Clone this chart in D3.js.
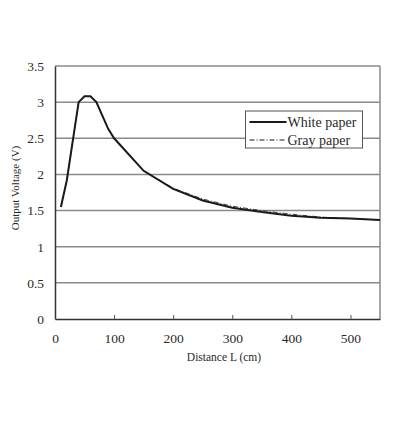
<!DOCTYPE html>
<html>
<head>
<meta charset="utf-8">
<script src="https://cdn.jsdelivr.net/npm/d3@7.9.0/dist/d3.min.js"></script>
<style>
  body { margin: 0; background: #fff; }
  svg text { font-family: "Liberation Serif", "Times New Roman", serif; fill: #2a2a2a; }
</style>
</head>
<body>
<div id="chart"></div>
<script>
const distance = [10, 20, 40, 50, 60, 70, 90, 100, 150, 200, 250, 300, 350, 400, 450, 500, 550];
const whitePaper = [1.55, 1.92, 3.0, 3.08, 3.08, 3.0, 2.63, 2.5, 2.05, 1.8, 1.64, 1.54, 1.48, 1.43, 1.40, 1.39, 1.37];
const grayPaper = [1.55, 1.92, 3.0, 3.08, 3.08, 3.0, 2.63, 2.5, 2.05, 1.81, 1.66, 1.56, 1.5, 1.45, 1.41, 1.39, 1.37];
const xTicks = [0, 100, 200, 300, 400, 500];
const yTicks = [0, 0.5, 1, 1.5, 2, 2.5, 3, 3.5];

const width = 398, height = 425;
const margin = {top: 66, right: 18, bottom: 106, left: 55};

const svg = d3.select("#chart").append("svg")
    .attr("width", width)
    .attr("height", height);

const x = d3.scaleLinear()
    .domain([0, 550])
    .range([margin.left, width - margin.right]);

const y = d3.scaleLinear()
    .domain([0, 3.5])
    .range([height - margin.bottom, margin.top]);

// gridlines
svg.append("g")
    .selectAll("line")
    .data(yTicks.filter(d => d > 0))
    .enter()
    .append("line")
    .attr("x1", x(0))
    .attr("x2", x(550))
    .attr("y1", d => y(d))
    .attr("y2", d => y(d))
    .attr("stroke", "#8a8a8a")
    .attr("stroke-width", 1.5);

// right border
svg.append("line")
    .attr("x1", x(550)).attr("x2", x(550))
    .attr("y1", y(3.5)).attr("y2", y(0))
    .attr("stroke", "#8a8a8a")
    .attr("stroke-width", 1.5);

// axes
const xAxis = svg.append("g")
    .attr("transform", `translate(0,${y(0)})`)
    .call(d3.axisBottom(x).tickValues(xTicks).tickSizeInner(-4).tickSizeOuter(0).tickPadding(14));
xAxis.select(".domain").attr("stroke", "#333").attr("stroke-width", 1.5);
xAxis.selectAll(".tick line").attr("stroke", "#555");
xAxis.selectAll("text").style("font-size", "13.5px").attr("fill", "#2a2a2a");
xAxis.select(".tick line").remove();

const yAxis = svg.append("g")
    .attr("transform", `translate(${x(0)},0)`)
    .call(d3.axisLeft(y).tickValues(yTicks).tickSize(0).tickPadding(11).tickFormat(d3.format("")));
yAxis.select(".domain").attr("stroke", "#333").attr("stroke-width", 1.5);
yAxis.selectAll("text").style("font-size", "13.5px").attr("fill", "#2a2a2a");

// lines
const line = d3.line()
    .x((d, i) => x(distance[i]))
    .y(d => y(d));

svg.append("path")
    .attr("d", line(grayPaper))
    .attr("fill", "none")
    .attr("stroke", "#444")
    .attr("stroke-width", 1)
    .attr("stroke-dasharray", "5,2,1,2");

svg.append("path")
    .attr("d", line(whitePaper))
    .attr("fill", "none")
    .attr("stroke", "#1a1a1a")
    .attr("stroke-width", 2);

// axis titles
svg.append("text")
    .attr("x", 224)
    .attr("y", 361)
    .attr("text-anchor", "middle")
    .style("font-size", "11.5px")
    .text("Distance L (cm)");

svg.append("text")
    .attr("transform", `translate(19,188) rotate(-90)`)
    .attr("text-anchor", "middle")
    .style("font-size", "11px")
    .text("Output Voltage (V)");

// legend
const legend = svg.append("g").attr("transform", "translate(245.5,111)");
legend.append("rect")
    .attr("width", 117)
    .attr("height", 37)
    .attr("fill", "#fff")
    .attr("stroke", "#555")
    .attr("stroke-width", 1);

const items = [
    {name: "White paper", dash: null, w: 2},
    {name: "Gray paper", dash: "5,2,1,2", w: 1}
];
items.forEach((d, i) => {
    const yy = 11 + i * 18;
    legend.append("line")
        .attr("x1", 4).attr("x2", 41)
        .attr("y1", yy).attr("y2", yy)
        .attr("stroke", "#1a1a1a")
        .attr("stroke-width", d.w)
        .attr("stroke-dasharray", d.dash);
    legend.append("text")
        .attr("x", 42)
        .attr("y", yy + 4.5)
        .style("font-size", "14px")
        .text(d.name);
});
</script>
</body>
</html>
